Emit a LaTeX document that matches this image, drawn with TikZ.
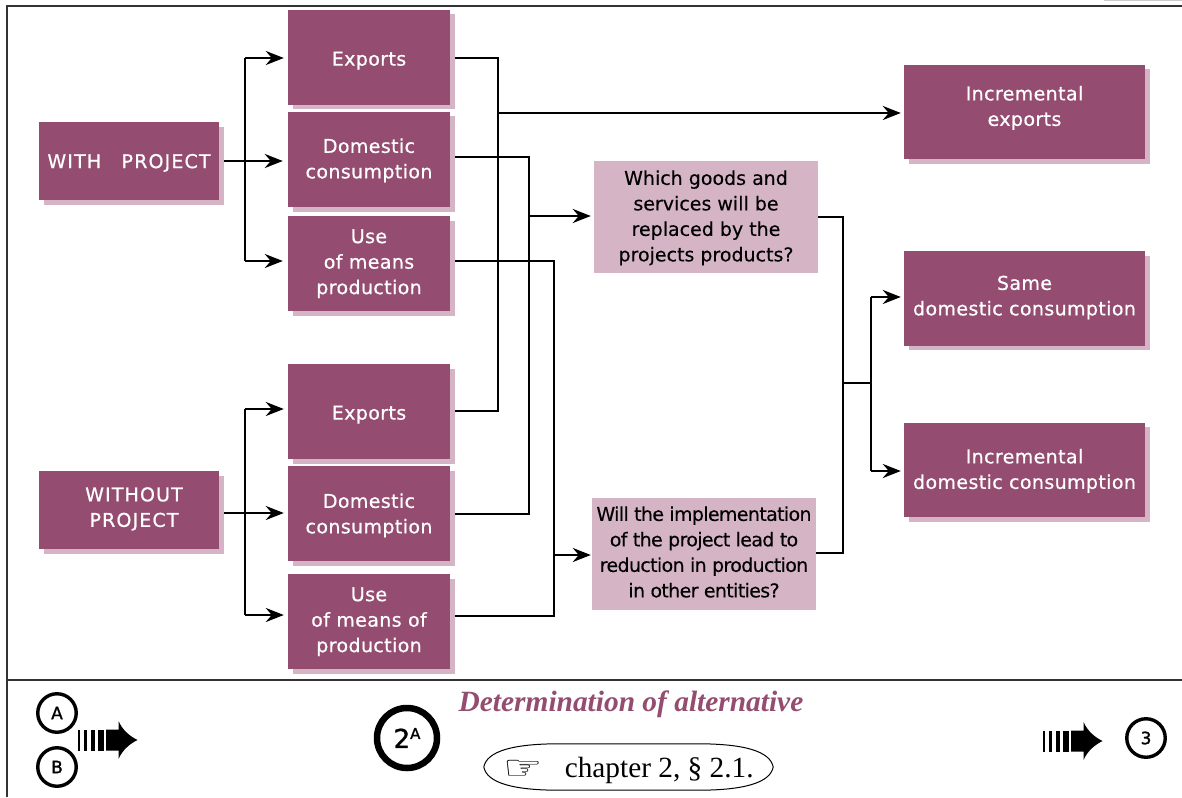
\documentclass[tikz,border=0pt]{standalone}
\usepackage{fontspec}
\setmainfont{Liberation Serif}
\newfontfamily\boxfont[LetterSpace=2,FakeBold=0.6]{DejaVu Sans}
\newfontfamily\capsfont[LetterSpace=6,FakeBold=0.6]{DejaVu Sans}
\newfontfamily\ringfont[FakeBold=1.4]{DejaVu Sans}
\newfontfamily\qfont[FakeBold=0.2]{DejaVu Sans}
\newfontfamily\qtight[LetterSpace=-3.4,FakeBold=0.2]{DejaVu Sans}
\newfontfamily\symfont{DejaVu Sans}
\usetikzlibrary{arrows.meta,shadows,shapes.geometric}
\definecolor{plum}{HTML}{944D70}
\definecolor{paleplum}{HTML}{D5B4C6}
\tikzset{
  darkbox/.style={fill=plum,text=white,inner sep=0pt,
    font=\boxfont\fontsize{19}{25.5}\selectfont,
    copy shadow={fill=paleplum,draw=none,shadow xshift=4.5pt,shadow yshift=-4.5pt}},
  midbox/.style={darkbox,minimum width=162pt,minimum height=95pt},
  sidebox/.style={darkbox,minimum width=180pt,minimum height=78pt},
  resbox/.style={darkbox,minimum width=241pt,minimum height=94.5pt},
  qbox/.style={fill=paleplum,text=black,inner sep=0pt,minimum width=224pt,minimum height=112pt,
    font=\qfont\fontsize{19}{25.5}\selectfont},
  link/.style={line width=2.6pt,draw=black},
  arr/.style={link,-{Stealth[length=18pt,width=14pt,inset=6pt]}},
  frameline/.style={line width=1.4pt,draw=black!80},
  ring/.style={circle,draw=black,line width=3.4pt,minimum size=38.5pt,inner sep=0pt,
    font=\ringfont\fontsize{17}{17}\selectfont},
}
\newcommand{\lift}[2]{\raisebox{#1}[\height][\depth]{\begin{tabular}{@{}c@{}}#2\end{tabular}}}
\newcommand{\stripearrow}[2]{%
 \begin{scope}[shift={(#1,#2)}]
  \fill (0,-10.5) rectangle (2,10.5);
  \fill (6.5,-10.5) rectangle (9.5,10.5);
  \fill (13.5,-10.5) rectangle (17.5,10.5);
  \fill (20.5,-10.5) rectangle (26.5,10.5);
  \fill (28.5,-10.5) -- (41,-10.5) .. controls (41,-14) and (41,-16) .. (41,-19)
     .. controls (45,-10) and (52,-4) .. (60,0)
     .. controls (52,4) and (45,10) .. (41,19)
     .. controls (41,16) and (41,14) .. (41,10.5) -- (28.5,10.5) -- cycle;
 \end{scope}}
\begin{document}
\begin{tikzpicture}[x=1pt,y=-1pt]
\useasboundingbox (0,0) rectangle (1182,797);
% frame
\coordinate (fa) at (7,797); \coordinate (fb) at (7,6); \coordinate (fc) at (1182,6);
\coordinate (fd) at (7,680); \coordinate (fe) at (1182,680);
\coordinate (ga) at (1104,0.5); \coordinate (gb) at (1182,0.5);
\draw[frameline] (fa) -- (fb) -- (fc);
\draw[frameline] (fd) -- (fe);
\draw[line width=1pt,draw=black!20] (ga) -- (gb);

% boxes
\node[sidebox] (with) at (129,161) {\capsfont\fontsize{19}{25.5}\selectfont\lift{-2pt}{WITH\hspace{0.7em} PROJECT}};
\node[sidebox] (without) at (129,510) {\capsfont\fontsize{19}{25.5}\selectfont\hspace*{10pt}\lift{1pt}{WITHOUT\\PROJECT}};
\node[midbox] (exp1) at (369,57.5) {\lift{-3pt}{Exports}};
\node[midbox] (dom1) at (369,159.5) {\lift{-1pt}{Domestic\\consumption}};
\node[midbox] (use1) at (369,263.5) {\lift{0pt}{Use\\of means\\production}};
\node[midbox] (exp2) at (369,411.5) {\lift{-3pt}{Exports}};
\node[midbox] (dom2) at (369,513.5) {\lift{-2pt}{Domestic\\consumption}};
\node[midbox] (use2) at (369,621.5) {\lift{0pt}{Use\\of means of\\production}};
\node[resbox] (incexp) at (1024.5,112) {\lift{4pt}{Incremental\\exports}};
\node[resbox] (same) at (1024.5,298.5) {\lift{1pt}{Same\\domestic consumption}};
\node[resbox] (incdom) at (1024.5,470) {\lift{-1pt}{Incremental\\domestic consumption}};
\node[qbox] (q1) at (706,217) {\lift{-1pt}{Which goods and\\services will be\\replaced by the\\projects products?}};
\node[qbox] (q2) at (704,554) {\qtight\fontsize{19}{25.5}\selectfont\lift{0pt}{Will the implementation\\of the project lead to\\reduction in production\\in other entities?}};

% junctions
\coordinate (b1t) at (245,58); \coordinate (b1m) at (245,161); \coordinate (b1b) at (245,261);
\coordinate (b2t) at (245,409); \coordinate (b2m) at (245,513); \coordinate (b2b) at (245,615);
\coordinate (j1t) at (498,58); \coordinate (j1m) at (498,113); \coordinate (j1b) at (498,411);
\coordinate (j2t) at (529,157); \coordinate (j2m) at (529,216); \coordinate (j2b) at (529,514);
\coordinate (j3t) at (554,261); \coordinate (j3m) at (554,555); \coordinate (j3b) at (554,616);
\coordinate (j4t) at (843,217); \coordinate (j4m) at (843,383); \coordinate (j4b) at (843,553);
\coordinate (j5m) at (871,383); \coordinate (j5t) at (871,297); \coordinate (j5b) at (871,471);

% left forks
\draw[link] (b1t) -- (b1b);
\draw[link] (b2t) -- (b2b);
\draw[arr] ([xshift=4.5pt]with.east) -- ([xshift=-5pt,yshift=-1.5pt]dom1.west);
\draw[arr] (b1t) -- ([xshift=-4pt,yshift=-0.5pt]exp1.west);
\draw[arr] (b1b) -- ([xshift=-5pt,yshift=2.5pt]use1.west);
\draw[arr] ([xshift=4.5pt,yshift=-3pt]without.east) -- ([xshift=-4pt,yshift=0.5pt]dom2.west);
\draw[arr] (b2t) -- ([xshift=-4pt,yshift=2.5pt]exp2.west);
\draw[arr] (b2b) -- ([xshift=-4pt,yshift=6.5pt]use2.west);

% collectors
\draw[link] ([xshift=5pt,yshift=-0.5pt]exp1.east) -- (j1t) -- (j1b) -- ([xshift=5pt,yshift=0.5pt]exp2.east);
\draw[link] ([xshift=5pt,yshift=2.5pt]dom1.east) -- (j2t) -- (j2b) -- ([xshift=5pt,yshift=-0.5pt]dom2.east);
\draw[link] ([xshift=5pt,yshift=2.5pt]use1.east) -- (j3t) -- (j3b) -- ([xshift=5pt,yshift=5.5pt]use2.east);
\draw[arr] (j1m) -- ([xshift=-3pt,yshift=-1pt]incexp.west);
\draw[arr] (j2m) -- ([xshift=-3pt,yshift=1pt]q1.west);
\draw[arr] (j3m) -- ([xshift=-1pt,yshift=-1pt]q2.west);
\draw[link] (q1.east) -- (j4t) -- (j4b) -- ([yshift=1pt]q2.east);
\draw[link] (j4m) -- (j5m);
\draw[link] (j5t) -- (j5b);
\draw[arr] (j5t) -- ([xshift=-3pt,yshift=1.5pt]same.west);
\draw[arr] (j5b) -- ([xshift=-3pt,yshift=-1pt]incdom.west);

% footer
\node[ring] (a) at (57,713) {A};
\node[ring] (b) at (57,767) {B};
\node[ring] (three) at (1146,738) {3};
\node[circle,draw=black,line width=6.5pt,minimum size=60pt,inner sep=0pt,font=\ringfont] (two) at (407,738)
  {\fontsize{26}{26}\selectfont 2\raisebox{9pt}{\fontsize{15}{15}\selectfont A}};
\stripearrow{77.5}{740}
\stripearrow{1042.5}{741}
\node[text=plum,font=\bfseries\itshape\fontsize{29.4}{29.4}\selectfont,inner sep=0pt] (title) at (631,704) {Determination of alternative};
\node[inner sep=0pt,minimum width=289pt,minimum height=46pt] (ref) at (628.5,767)
  {\raisebox{-3pt}[\height][\depth]{\fontsize{29.3}{29.3}\selectfont{\symfont\raisebox{-2pt}{\scalebox{1.5}[1.15]{☞}}}\hspace{0.5em} chapter 2, § 2.1.}};
\draw[line width=1pt] (ref.west)
  .. controls ([xshift=3pt,yshift=16pt]ref.west) and ([xshift=30pt]ref.north west) .. ([xshift=75pt]ref.north west)
  -- ([xshift=-75pt]ref.north east)
  .. controls ([xshift=-30pt]ref.north east) and ([xshift=-3pt,yshift=16pt]ref.east) .. (ref.east)
  .. controls ([xshift=-3pt,yshift=-16pt]ref.east) and ([xshift=-30pt]ref.south east) .. ([xshift=-75pt]ref.south east)
  -- ([xshift=75pt]ref.south west)
  .. controls ([xshift=30pt]ref.south west) and ([xshift=3pt,yshift=-16pt]ref.west) .. (ref.west) -- cycle;
\end{tikzpicture}
\end{document}
